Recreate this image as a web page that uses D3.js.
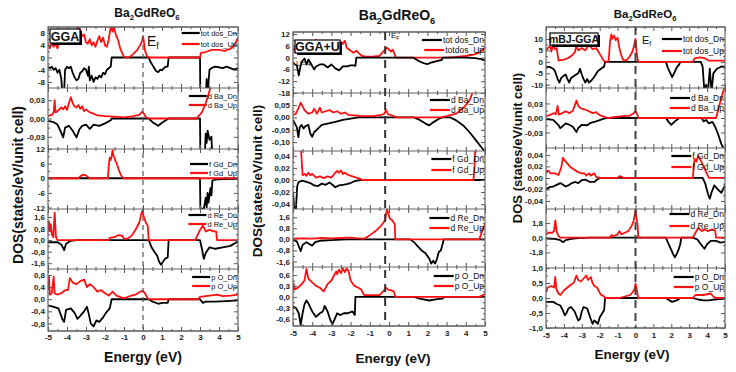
<!DOCTYPE html>
<html><head><meta charset="utf-8">
<script src="https://cdn.jsdelivr.net/npm/d3@7"></script>
<style>body{margin:0;background:#fff}svg{font-family:"Liberation Sans",Arial,sans-serif}</style>
</head><body><svg id="c" width="736" height="372"></svg>
<script>
// ---------- shared axis values ----------
const xTickVals = [-5,-4,-3,-2,-1,0,1,2,3,4,5];
const xTickLabels = ["-5","-4","-3","-2","-1","0","1","2","3","4","5"];
const legendNames = [["tot dos_Dn","tot dos_Up"],["d Ba_Dn","d Ba_Up"],["f Gd_Dn","f Gd_Up"],["d Re_Dn","d Re_Up"],["p O_Dn","p O_Up"]];
const legendNamesU = [["tot dos_Dn","totdos_Up"],["d Ba_Dn","d Ba_Up"],["f Gd_Dn","f Gd_Up"],["d Re_Dn","d Re_Up"],["p O_Dn","p O_Up"]];

// ---------- panel 1 : GGA ----------
const ggaTicks = [[8,4,0,-4,-8],[0.03,0,-0.03],[12,6,0,-6,-12],[1.6,0.8,0,-0.8,-1.6],[0.8,0.4,0,-0.4,-0.8]];
const ggaTickLabels = [["8","4","0","-4","-8"],["0,03","0,00","-0,03"],["12","6","0","-6","-12"],["1,6","0,8","0,0","-0,8","-1,6"],["0,8","0,4","0,0","-0,4","-0,8"]];
const ggaTotUp = [[-5,4.5],[-4.9,3],[-4.8,5],[-4.7,3.5],[-4.6,4.5],[-4.5,3],[-4.4,5.5],[-4.3,7.5],[-4.2,6],[-4.1,5],[-4.0,4.5],[-3.9,6],[-3.8,5],[-3.7,7],[-3.6,6.5],[-3.5,8.5],[-3.4,10],[-3.3,9],[-3.2,7],[-3.1,7.5],[-3.0,5],[-2.9,4.5],[-2.8,6],[-2.7,4],[-2.6,5],[-2.5,3.5],[-2.4,5.5],[-2.3,7],[-2.2,5],[-2.1,6.5],[-2.0,4],[-1.9,3.5],[-1.8,6],[-1.7,10],[-1.6,8.5],[-1.55,10.5],[-1.5,9],[-1.4,7],[-1.3,5.5],[-1.2,3],[-1.1,1.5],[-1.0,0.3],[-0.9,0],[-0.7,0.2],[-0.5,1.2],[-0.3,2.5],[-0.15,4],[-0.05,5.5],[0,7],[0.05,5],[0.1,2.5],[0.2,0.5],[0.3,0],[3.0,0],[3.05,1.5],[3.3,1.8],[3.6,2.5],[4.0,2.5],[4.3,2.2],[4.6,2.8],[4.8,4],[5,6.5]];
const ggaTotDn = [[-5,-3],[-4.9,-3.5],[-4.8,-3],[-4.7,-4],[-4.6,-3.5],[-4.5,-5],[-4.4,-4],[-4.3,-7],[-4.25,-11],[-4.15,-11],[-4.1,-4],[-4.0,-3],[-3.9,-3.5],[-3.8,-3],[-3.7,-5],[-3.6,-6.5],[-3.5,-7.5],[-3.4,-7],[-3.3,-5],[-3.2,-4.5],[-3.1,-3.5],[-3.0,-4],[-2.9,-6],[-2.85,-3],[-2.8,-7.5],[-2.7,-6],[-2.6,-8],[-2.5,-6.5],[-2.4,-7],[-2.3,-6],[-2.2,-6.5],[-2.1,-5],[-2.0,-5.5],[-1.9,-4],[-1.8,-3.5],[-1.7,-3],[-1.65,0],[0.3,0],[0.4,-1.5],[0.5,-2.5],[0.6,-3.5],[0.7,-4.5],[0.8,-4.8],[0.9,-4],[1.0,-4.2],[1.1,-3.5],[1.2,-3],[1.3,-3],[1.35,0],[3.0,0],[3.02,-14],[3.3,-14],[3.35,-7],[3.4,-14],[3.45,-8],[3.5,-4],[3.6,-3.5],[3.8,-3],[4.0,-3.2],[4.2,-3.5],[4.4,-3],[4.6,-3.5],[4.8,-4],[5,-3.5]];
const ggaBaUp = [[-5,0.004],[-4.8,0.006],[-4.7,0.01],[-4.65,0.03],[-4.6,0.01],[-4.5,0.012],[-4.3,0.018],[-4.2,0.015],[-4.1,0.02],[-4.0,0.014],[-3.9,0.025],[-3.8,0.035],[-3.7,0.025],[-3.6,0.02],[-3.5,0.018],[-3.4,0.022],[-3.3,0.016],[-3.2,0.02],[-3.1,0.012],[-3.0,0.015],[-2.8,0.01],[-2.6,0.008],[-2.4,0.005],[-2.0,0.004],[-1.5,0.003],[-1.0,0.002],[-0.5,0.004],[-0.2,0.006],[-0.05,0.011],[0.05,0.008],[0.15,0.002],[0.3,0],[2.8,0],[2.9,0.003],[3.1,0.01],[3.3,0.025],[3.5,0.045],[3.7,0.065]];
const ggaBaDn = [[-5,-0.004],[-4.7,-0.006],[-4.5,-0.01],[-4.35,-0.02],[-4.2,-0.031],[-4.1,-0.015],[-3.9,-0.012],[-3.7,-0.02],[-3.5,-0.031],[-3.35,-0.018],[-3.2,-0.012],[-3.0,-0.01],[-2.8,-0.017],[-2.6,-0.01],[-2.3,-0.012],[-2.0,-0.008],[-1.7,-0.003],[-1.65,0],[0.3,0],[0.5,-0.006],[0.8,-0.012],[1.0,-0.007],[1.35,0],[3.0,0],[3.02,-0.06],[3.25,-0.06],[3.3,-0.025],[3.35,-0.04],[3.4,-0.02],[3.5,-0.035],[3.6,-0.03],[3.65,-0.06],[3.7,-0.08],[5,-0.1]];
const ggaGdUp = [[-5,0],[-3.4,0],[-3.3,0.8],[-3.15,1.5],[-3.0,1.2],[-2.9,0.5],[-2.8,0],[-1.85,0],[-1.8,5.5],[-1.75,8.5],[-1.7,7.5],[-1.65,9],[-1.6,11.5],[-1.55,9],[-1.5,8.5],[-1.45,7],[-1.4,6.5],[-1.3,4],[-1.2,2],[-1.1,0.5],[-1.0,0],[5,0]];
const ggaGdDn = [[-5,0],[3.0,0],[3.02,-12.5],[3.2,-12.5],[3.3,-8],[3.35,-12],[3.4,-6],[3.45,-10],[3.55,-4],[3.6,-7],[3.65,-1],[3.8,-0.5],[4.2,-0.3],[5,-0.2]];
const ggaReUp = [[-5,0.6],[-4.95,1.3],[-4.9,0.6],[-4.85,1.1],[-4.8,0.4],[-4.72,0.2],[-4.65,1.9],[-4.58,0.2],[-4.5,0],[-1.8,0],[-1.75,0.15],[-1.5,0.2],[-1.3,0.35],[-1.1,0.3],[-1.0,0.1],[-0.8,0.1],[-0.6,0.3],[-0.4,0.7],[-0.2,1.2],[-0.05,2.0],[0.05,1.6],[0.15,1.2],[0.25,1.0],[0.3,0],[2.75,0],[3.0,0.7],[3.15,1.0],[3.3,0.6],[3.5,0.7],[3.7,0.6],[3.85,0.6],[3.9,0],[5,0]];
const ggaReDn = [[-5,-0.15],[-4.5,-0.15],[-4.3,-0.3],[-4.15,-0.7],[-4.05,-0.25],[-3.8,-0.05],[-3.5,0],[0.3,0],[0.45,-0.5],[0.6,-0.8],[0.75,-1.1],[0.85,-1.5],[0.95,-1.7],[1.05,-1.5],[1.15,-1.3],[1.3,-1.2],[1.35,0],[3.0,0],[3.1,-0.6],[3.2,-1.3],[3.3,-0.9],[3.5,-0.5],[3.8,-0.6],[4.2,-0.5],[4.6,-0.4],[5,-0.1]];
const ggaOUp = [[-5,0.3],[-4.95,0.75],[-4.9,0.15],[-4.8,0.2],[-4.7,0.75],[-4.65,0.2],[-4.5,0.15],[-4.3,0.2],[-4.1,0.3],[-3.95,0.3],[-3.85,0.7],[-3.7,0.55],[-3.5,0.5],[-3.3,0.6],[-3.1,0.65],[-2.95,0.4],[-2.8,0.5],[-2.6,0.4],[-2.4,0.25],[-2.2,0.3],[-2.0,0.2],[-1.8,0.12],[-1.6,0.25],[-1.4,0.12],[-1.0,0.03],[-0.7,0.1],[-0.4,0.15],[-0.15,0.25],[0,0.28],[0.1,0.2],[0.25,0.02],[0.3,0],[2.9,0],[3.0,0.08],[3.5,0.12],[3.9,0.15],[4.2,0.1],[4.6,0.12],[5,0.15]];
const ggaODn = [[-5,-0.2],[-4.7,-0.25],[-4.45,-0.3],[-4.25,-0.65],[-4.15,-0.75],[-4.05,-0.35],[-3.8,-0.3],[-3.6,-0.45],[-3.45,-0.65],[-3.3,-0.55],[-3.1,-0.4],[-2.95,-0.25],[-2.85,-0.5],[-2.75,-0.8],[-2.6,-0.9],[-2.45,-0.7],[-2.3,-0.75],[-2.1,-0.6],[-1.95,-0.45],[-1.75,-0.3],[-1.65,0],[0.3,0],[0.5,-0.08],[0.8,-0.15],[1.0,-0.12],[1.3,-0.12],[1.35,0],[3.0,0],[3.15,-0.12],[3.3,-0.08],[3.8,-0.08],[4.4,-0.06],[5,-0.04]];

// ---------- panel 2 : GGA+U ----------
const uTicks = [[12,6,0,-6,-12,-18],[0.05,0,-0.05,-0.1],[0.04,0.02,0,-0.02,-0.04],[1.6,0.8,0,-0.8,-1.6],[0.6,0.3,0,-0.3,-0.6]];
const uTickLabels = [["12","6","0","-6","-12","-18"],["0,05","0,00","-0,05","-0,10"],["0,04","0,02","0,00","-0,02","-0,04"],["1,6","0,8","0,0","-0,8","-1,6"],["0,6","0,3","0,0","-0,3","-0,6"]];
const uTotUp = [[-5,5],[-4.9,3.5],[-4.8,6],[-4.6,7],[-4.4,6],[-4.2,8],[-4.0,7],[-3.8,9],[-3.6,6],[-3.4,7],[-3.2,8],[-3.0,6.5],[-2.8,5],[-2.6,7.5],[-2.5,8],[-2.4,7],[-2.3,8.5],[-2.2,5],[-2.0,3.5],[-1.85,2.5],[-1.7,3.5],[-1.55,2],[-1.4,0.8],[-1.2,0.5],[-0.8,0.6],[-0.5,0.8],[-0.35,2.5],[-0.2,4],[-0.1,5],[0,4],[0.1,3],[0.2,4],[0.3,1.5],[0.35,0],[3.0,0],[3.5,0.3],[4.0,0.8],[4.4,1.5],[4.7,2.5],[5,5]];
const uTotDn = [[-5,-2.5],[-4.9,-3.5],[-4.8,-4],[-4.7,-9],[-4.6,-4],[-4.5,-1.5],[-4.4,-0.5],[-4.3,-3.5],[-4.2,-1],[-4.1,-2.5],[-3.9,-6],[-3.8,-4.5],[-3.6,-3.5],[-3.4,-3.5],[-3.2,-5],[-3.0,-3.5],[-2.8,-5.5],[-2.6,-6.5],[-2.4,-4.5],[-2.2,-4.5],[-2.0,-4],[-1.85,-4],[-1.75,-4.2],[-1.7,0],[1.25,0],[1.4,-0.8],[1.6,-2],[1.8,-2.8],[2.0,-3.3],[2.2,-2.5],[2.5,-1.8],[2.75,-1.2],[2.8,0],[4.0,0],[4.5,-0.3],[4.8,-0.8],[5,-1.5]];
const uBaUp = [[-5,0.01],[-4.85,0.015],[-4.7,0.04],[-4.6,0.06],[-4.5,0.045],[-4.4,0.03],[-4.2,0.015],[-4.0,0.02],[-3.9,0.035],[-3.75,0.015],[-3.6,0.04],[-3.5,0.02],[-3.3,0.025],[-3.1,0.03],[-2.9,0.02],[-2.7,0.025],[-2.5,0.015],[-2.3,0.02],[-2.1,0.01],[-1.8,0.008],[-1.4,0.005],[-0.8,0.005],[-0.4,0.01],[-0.25,0.015],[-0.15,0.03],[-0.05,0.012],[0.1,0.01],[0.3,0.003],[0.4,0],[2.7,0],[3.0,0.005],[3.5,0.015],[3.9,0.04],[4.2,0.07],[4.4,0.11]];
const uBaDn = [[-5,-0.01],[-4.9,-0.025],[-4.8,-0.04],[-4.72,-0.08],[-4.65,-0.04],[-4.55,-0.03],[-4.45,-0.045],[-4.35,-0.035],[-4.2,-0.03],[-4.1,-0.065],[-4.0,-0.078],[-3.9,-0.06],[-3.7,-0.045],[-3.5,-0.03],[-3.2,-0.025],[-2.8,-0.018],[-2.4,-0.01],[-2.0,-0.005],[-1.6,0],[1.3,0],[1.6,-0.01],[1.9,-0.025],[2.1,-0.032],[2.3,-0.02],[2.6,-0.005],[2.8,0],[3.2,0],[3.5,-0.012],[3.9,-0.035],[4.2,-0.06],[4.5,-0.09],[4.8,-0.12],[5,-0.14]];
const uGdUp = [[-5,0.035],[-4.97,0.06],[-4.6,0.06],[-4.5,0.008],[-4.4,0.01],[-4.3,0.007],[-4.2,0.012],[-4.1,0.008],[-4.0,0.01],[-3.8,0.004],[-3.6,0.006],[-3.4,0.003],[-3.2,0.006],[-3.0,0.004],[-2.8,0.012],[-2.7,0.015],[-2.6,0.012],[-2.5,0.016],[-2.4,0.01],[-2.3,0.012],[-2.1,0.008],[-1.9,0.006],[-1.7,0.004],[-1.5,0.002],[-1.4,0],[4.4,0],[4.45,0.02],[4.5,0.06]];
const uGdDn = [[-5,-0.02],[-4.93,-0.05],[-4.85,-0.05],[-4.78,-0.01],[-4.7,-0.003],[-4.5,-0.001],[-4.3,-0.003],[-4.1,-0.005],[-3.9,-0.009],[-3.7,-0.01],[-3.5,-0.006],[-3.3,-0.008],[-3.1,-0.004],[-2.9,-0.009],[-2.8,-0.012],[-2.6,-0.009],[-2.4,-0.008],[-2.2,-0.007],[-2.0,-0.005],[-1.8,-0.002],[-1.5,0],[5,0]];
const uReUp = [[-5,0.05],[-4.5,0.08],[-4.0,0.05],[-3.5,0.1],[-3.0,0.08],[-2.5,0.1],[-2.0,0.12],[-1.6,0.08],[-1.3,0.05],[-1.1,0.2],[-0.9,0.4],[-0.7,0.6],[-0.55,0.8],[-0.4,1.0],[-0.3,1.2],[-0.2,1.4],[-0.15,1.9],[-0.1,2.2],[-0.05,1.9],[0.05,1.5],[0.15,1.4],[0.25,1.2],[0.3,1.1],[0.33,0],[4.7,0],[4.8,0.4],[4.9,0.8],[5,1.1]];
const uReDn = [[-5,-0.05],[-4.8,-0.15],[-4.7,-0.5],[-4.6,-0.85],[-4.5,-0.4],[-4.3,-0.2],[-4.2,-0.3],[-4.0,-0.45],[-3.85,-0.2],[-3.6,-0.1],[-3.0,-0.05],[-2.2,0],[1.1,0],[1.3,-0.2],[1.5,-0.5],[1.7,-0.8],[1.9,-1.0],[2.1,-1.4],[2.2,-1.75],[2.3,-1.55],[2.4,-1.75],[2.5,-1.4],[2.6,-0.9],[2.7,-0.8],[2.8,-0.3],[2.85,0],[5,0]];
const uOUp = [[-5,0.18],[-4.97,0.36],[-4.9,0.2],[-4.75,0.25],[-4.55,0.35],[-4.4,0.45],[-4.3,0.77],[-4.2,0.5],[-4.1,0.45],[-4.0,0.4],[-3.8,0.3],[-3.6,0.25],[-3.4,0.15],[-3.2,0.35],[-3.0,0.45],[-2.85,0.6],[-2.75,0.7],[-2.7,0.62],[-2.6,0.75],[-2.5,0.65],[-2.4,0.78],[-2.3,0.68],[-2.2,0.78],[-2.1,0.7],[-2.0,0.45],[-1.8,0.3],[-1.6,0.25],[-1.45,0.2],[-1.3,0.05],[-1.0,0.05],[-0.5,0.05],[-0.3,0.15],[-0.15,0.25],[-0.05,0.2],[0.1,0.18],[0.25,0.15],[0.33,0],[4.7,0],[5,0.08]];
const uODn = [[-5,-0.27],[-4.85,-0.3],[-4.7,-0.45],[-4.6,-0.77],[-4.5,-0.45],[-4.4,-0.2],[-4.3,-0.1],[-4.2,-0.18],[-4.0,-0.4],[-3.8,-0.55],[-3.6,-0.45],[-3.45,-0.4],[-3.35,-0.25],[-3.2,-0.4],[-3.05,-0.64],[-2.95,-0.75],[-2.85,-0.64],[-2.7,-0.45],[-2.55,-0.5],[-2.35,-0.45],[-2.15,-0.45],[-1.9,-0.4],[-1.78,-0.5],[-1.75,0],[1.3,0],[1.6,-0.05],[2.1,-0.1],[2.5,-0.06],[2.8,-0.05],[2.85,0],[5,0]];

// ---------- panel 3 : mBJ-GGA ----------
const mTicks = [[10,5,0,-5,-10],[0.03,0,-0.03],[0.04,0.02,0,-0.02,-0.04],[1.8,0,-1.8],[1,0.5,0,-0.5,-1]];
const mTickLabels = [["10","5","0","-5","-10"],["0,03","0,00","-0,03"],["0,04","0,02","0,00","-0,02","-0,04"],["1,8","0,0","-1,8"],["1,0","0,5","0,0","-0,5","-1,0"]];
const mTotUp = [[-5,5],[-4.9,6],[-4.75,7],[-4.7,4.5],[-4.6,7.5],[-4.5,5.5],[-4.4,6],[-4.3,0.5],[-4.2,0.8],[-4.0,1],[-3.8,1.5],[-3.6,2.5],[-3.4,4],[-3.3,7],[-3.2,5],[-3.0,6],[-2.8,5],[-2.6,7.5],[-2.4,5.5],[-2.2,6],[-2.0,3.5],[-1.85,1.5],[-1.75,0.3],[-1.6,0],[-1.5,0.5],[-1.42,9],[-1.35,12],[-1.3,10],[-1.2,11.5],[-1.1,9.5],[-1.0,10.5],[-0.9,6],[-0.8,3],[-0.7,1],[-0.55,0.5],[-0.4,1.5],[-0.2,4],[-0.1,6.5],[0,10],[0.05,5],[0.12,1],[0.15,0],[3.2,0],[3.3,1.5],[3.6,2],[3.9,1.5],[4.1,0.5],[4.3,0.5],[5,0.5]];
const mTotDn = [[-5,-2.2],[-4.8,-2.2],[-4.6,-3],[-4.5,-4],[-4.35,-7.5],[-4.25,-9],[-4.15,-7],[-4.0,-6],[-3.9,-5.5],[-3.8,-7.5],[-3.7,-9],[-3.6,-7],[-3.4,-6],[-3.2,-5],[-3.1,-3],[-3.0,-5.5],[-2.9,-7.5],[-2.8,-9],[-2.7,-7.5],[-2.6,-9],[-2.45,-8],[-2.3,-6.5],[-2.1,-4],[-1.75,-2],[-1.7,0],[1.7,0],[1.8,-2.5],[1.95,-5],[2.05,-6.7],[2.15,-5],[2.3,-2.5],[2.45,-1],[2.5,0],[3.65,0],[3.75,-2],[3.85,-13],[3.95,-10],[4.05,-13],[4.15,-3],[4.25,-13],[4.35,-5],[4.55,-3],[4.8,-2],[5,-2.2]];
const mBaUp = [[-5,0.004],[-4.8,0.006],[-4.55,0.01],[-4.45,0.008],[-4.35,0.025],[-4.28,0.007],[-4.1,0.01],[-3.9,0.014],[-3.7,0.01],[-3.5,0.015],[-3.4,0.025],[-3.3,0.036],[-3.2,0.025],[-3.05,0.02],[-2.85,0.018],[-2.6,0.014],[-2.4,0.01],[-2.2,0.012],[-2.0,0.006],[-1.7,0.002],[-1.5,0],[-1.0,0.003],[-0.7,0.004],[-0.3,0.005],[-0.1,0.01],[0,0.014],[0.1,0.008],[0.15,0],[4.5,0],[4.75,0.035],[4.9,0.055],[5,0.065]];
const mBaDn = [[-5,-0.002],[-4.6,-0.004],[-4.4,-0.011],[-4.3,-0.015],[-4.2,-0.021],[-4.1,-0.018],[-3.9,-0.011],[-3.7,-0.014],[-3.5,-0.018],[-3.3,-0.029],[-3.2,-0.021],[-3.0,-0.014],[-2.7,-0.015],[-2.5,-0.01],[-2.2,-0.007],[-1.8,-0.002],[-1.6,0],[1.7,0],[1.85,-0.008],[2.0,-0.014],[2.2,-0.007],[2.45,0],[3.7,0],[3.8,-0.007],[3.95,-0.004],[4.1,-0.011],[4.3,-0.008],[4.45,-0.018],[4.6,-0.032],[4.8,-0.054],[4.95,-0.065]];
const mGdUp = [[-5,0.012],[-4.85,0.012],[-4.75,0.008],[-4.5,0.008],[-4.3,0.005],[-4.15,0.018],[-4.05,0.035],[-3.95,0.03],[-3.8,0.025],[-3.6,0.018],[-3.4,0.014],[-3.2,0.01],[-3.0,0.008],[-2.85,0.008],[-2.75,0.004],[-2.6,0.008],[-2.5,0.004],[-2.3,0.008],[-2.2,0.002],[-2.0,0],[-1.0,0],[-0.9,0.003],[-0.75,0.002],[-0.7,0],[3.2,0],[3.3,0.033],[3.4,0.028],[3.5,0.039],[3.65,0.03],[3.8,0.02],[3.95,0.01],[4.1,0],[5,0]];
const mGdDn = [[-5,-0.02],[-4.8,-0.016],[-4.6,-0.015],[-4.4,-0.012],[-4.2,-0.009],[-4.05,-0.012],[-3.9,-0.015],[-3.7,-0.012],[-3.55,-0.009],[-3.35,-0.007],[-3.2,-0.009],[-3.0,-0.004],[-2.8,-0.003],[-2.55,-0.007],[-2.3,-0.007],[-2.15,-0.003],[-2.0,0],[3.75,0],[3.9,-0.01],[4.05,-0.028],[4.15,-0.036],[4.25,-0.025],[4.4,-0.013],[4.6,-0.02],[4.8,-0.026],[5,-0.013]];
const mReUp = [[-5,0.4],[-4.85,0.6],[-4.65,0.6],[-4.55,0.8],[-4.48,2.1],[-4.4,0.7],[-4.3,0.2],[-4.2,0],[-1.45,0],[-1.35,0.3],[-1.2,0.2],[-1.0,0.4],[-0.9,0.8],[-0.8,0.4],[-0.6,0.6],[-0.4,0.8],[-0.2,1.5],[-0.1,2.1],[0,3.3],[0.05,2.5],[0.12,1.5],[0.15,0],[3.2,0],[3.35,0.6],[3.5,1.2],[3.7,0.8],[3.85,1.0],[4.05,0.8],[4.25,1.0],[4.45,0.9],[4.5,0],[5,0]];
const mReDn = [[-5,-0.1],[-4.5,-0.15],[-4.2,-0.3],[-4.05,-0.55],[-3.9,-0.3],[-3.6,-0.15],[-3.2,-0.05],[-2.5,0],[1.7,0],[1.85,-0.8],[2.0,-1.5],[2.1,-2.0],[2.2,-2.4],[2.3,-2.0],[2.4,-1.5],[2.5,-0.8],[2.56,0],[3.2,0],[3.45,-0.2],[3.65,-0.8],[3.85,-1.35],[4.0,-0.8],[4.2,-0.4],[4.5,-0.4],[4.75,-0.6],[5,-0.5]];
const mOUp = [[-5,0.2],[-4.9,0.35],[-4.7,0.4],[-4.55,0.35],[-4.48,0.7],[-4.42,0.3],[-4.3,0.15],[-4.2,0.1],[-4.0,0.25],[-3.8,0.35],[-3.6,0.45],[-3.45,0.5],[-3.3,0.75],[-3.2,0.6],[-3.05,0.55],[-2.9,0.65],[-2.75,0.75],[-2.65,0.6],[-2.5,0.7],[-2.4,0.5],[-2.3,0.4],[-2.15,0.35],[-1.95,0.12],[-1.75,0.05],[-1.7,0],[-0.9,0],[-0.6,0.05],[-0.3,0.1],[-0.15,0.2],[-0.05,0.3],[0,0.48],[0.05,0.35],[0.12,0.1],[0.15,0],[3.2,0],[3.35,0.1],[3.8,0.1],[4.2,0.15],[4.35,0.05],[4.5,0],[5,0]];
const mODn = [[-5,-0.13],[-4.6,-0.13],[-4.4,-0.2],[-4.2,-0.25],[-4.05,-0.42],[-3.95,-0.58],[-3.85,-0.5],[-3.75,-0.35],[-3.6,-0.3],[-3.4,-0.45],[-3.2,-0.75],[-3.1,-0.7],[-3.0,-0.45],[-2.9,-0.3],[-2.7,-0.35],[-2.6,-0.52],[-2.5,-0.7],[-2.4,-0.86],[-2.3,-0.75],[-2.2,-0.8],[-2.1,-0.86],[-2.0,-0.65],[-1.8,-0.45],[-1.75,-0.4],[-1.7,0],[1.7,0],[1.9,-0.08],[2.05,-0.13],[2.3,-0.08],[2.5,0],[3.2,0],[3.5,-0.05],[3.8,-0.08],[4.1,-0.08],[4.4,-0.05],[5,-0.02]];

// ---------- layout ----------
const panels = [
 {id:"a", x0:48, x1:238, ys:[27,88,149,209,269,331], ef:0, efW:1.2, efDash:"5,4", efC:"#555",
  doms:[[-10,10],[-0.05,0.05],[-12.6,12],[-2,2.15],[-1.05,1]], ticks:ggaTicks, labels:ggaTickLabels,
  up:[ggaTotUp,ggaBaUp,ggaGdUp,ggaReUp,ggaOUp], dn:[ggaTotDn,ggaBaDn,ggaGdDn,ggaReDn,ggaODn],
  leg:legendNames, legY:[[33,44],[96,105],[164,173],[215,224],[277,286]], legFs:7.5, legL:18,
  blackTop:[false,false,false,false,false],
  title:{x:147,y:17,fs:12}, xl:{x:143,y:362,fs:14}, yl:{x:23,y:185,fs:14,t:"DOS(states/eV/unit cell)"},
  xtY:334, box:{x:50,y:29,w:30,h:14,t:"GGA",fs:12.5}, efl:{x:147,y:46,fs:14,sub:"f"}},
 {id:"b", x0:293, x1:485, ys:[32,93,151,209,267,326], ef:-0.2, efW:2, efDash:"8,6", efC:"#333",
  doms:[[-18,13],[-0.136,0.099],[-0.048,0.048],[-2,2.2],[-0.8,0.82]], ticks:uTicks, labels:uTickLabels,
  up:[uTotUp,uBaUp,uGdUp,uReUp,uOUp], dn:[uTotDn,uBaDn,uGdDn,uReDn,uODn],
  leg:legendNamesU, legY:[[40,50],[100,110],[159,170],[218,228],[276,286]], legFs:8.5, legL:20,
  blackTop:[true,false,false,false,false],
  title:{x:397,y:20,fs:14}, xl:{x:393,y:363,fs:13.5}, yl:{x:262,y:181,fs:13.5,t:"DOS(states/eV/unit cell)"},
  xtY:330, box:{x:295,y:40,w:45,h:13,t:"GGA+U",fs:12.5}, efl:{x:391,y:38,fs:8,sub:"F"}, note:{x:296,y:66,t:"U=4"}},
 {id:"c", x0:546, x1:725, ys:[27,88,148,209,268,328], ef:0, efW:2, efDash:"8,5", efC:"#444",
  doms:[[-11.4,15.2],[-0.062,0.062],[-0.054,0.052],[-3.7,3.5],[-1,1]], ticks:mTicks, labels:mTickLabels,
  up:[mTotUp,mBaUp,mGdUp,mReUp,mOUp], dn:[mTotDn,mBaDn,mGdDn,mReDn,mODn],
  leg:legendNames, legY:[[39,51],[98,108],[156,167],[214,226],[277,287]], legFs:8.5, legL:20,
  blackTop:[false,false,false,false,false],
  title:{x:645,y:18,fs:11.5}, xl:{x:632,y:359,fs:13.5}, yl:{x:522,y:148,fs:13,t:"DOS (states/eV/unit cell)"},
  xtY:332, box:{x:550,y:33,w:48,h:12,t:"mBJ-GGA",fs:10.5}, efl:{x:642,y:44,fs:11,sub:"f"}}
];

const svg = d3.select("#c");
const defs = svg.append("defs");
const RED = "#ff1010";

panels.forEach(p => {
  const g = svg.append("g");
  const x = d3.scaleLinear().domain([-5,5]).range([p.x0,p.x1]);
  const minorX = d3.range(-4.5,5,1);
  p.doms.forEach((dom,i) => {
    const top = p.ys[i], bot = p.ys[i+1];
    const y = d3.scaleLinear().domain(dom).range([bot,top]);
    const cid = "clip"+p.id+i;
    defs.append("clipPath").attr("id",cid).append("rect")
      .attr("x",p.x0).attr("y",top).attr("width",p.x1-p.x0).attr("height",bot-top);
    const line = d3.line().x(d=>x(d[0])).y(d=>y(d[1]));
    const cg = g.append("g").attr("clip-path",`url(#${cid})`);
    const order = p.blackTop[i] ? [[p.up[i],RED],[p.dn[i],"#000"]] : [[p.dn[i],"#000"],[p.up[i],RED]];
    order.forEach(([data,col]) => {
      cg.append("path").datum(data).attr("d",line).attr("fill","none")
        .attr("stroke",col).attr("stroke-width",1.8).attr("stroke-linejoin","round");
    });
    const styleAx = s => { s.select(".domain").remove(); s.selectAll("line").attr("stroke","#555"); };
    const tk = p.ticks[i], tl = p.labels[i];
    g.append("g").attr("transform",`translate(${p.x0},0)`)
      .call(d3.axisLeft(y).tickValues(tk).tickFormat((d,k)=>tl[k]).tickSize(-4).tickPadding(3))
      .call(styleAx)
      .call(s=>s.selectAll("text").attr("font-size",8).attr("font-weight","bold").attr("fill","#222")
        .attr("font-family","'Liberation Sans',Arial,sans-serif"));
    g.append("g").attr("transform",`translate(${p.x1},0)`)
      .call(d3.axisRight(y).tickValues(tk).tickFormat("").tickSize(-4)).call(styleAx);
    const minorY = tk.slice(1).map((v,k)=>(v+tk[k])/2);
    g.append("g").attr("transform",`translate(${p.x0},0)`)
      .call(d3.axisLeft(y).tickValues(minorY).tickFormat("").tickSize(-2)).call(styleAx);
    g.append("g").attr("transform",`translate(${p.x1},0)`)
      .call(d3.axisRight(y).tickValues(minorY).tickFormat("").tickSize(-2)).call(styleAx);
    g.append("g").attr("transform",`translate(0,${bot})`)
      .call(d3.axisBottom(x).tickValues(xTickVals).tickFormat("").tickSize(-4)).call(styleAx);
    g.append("g").attr("transform",`translate(0,${bot})`)
      .call(d3.axisBottom(x).tickValues(minorX).tickFormat("").tickSize(-2)).call(styleAx);
    g.append("g").attr("transform",`translate(0,${top})`)
      .call(d3.axisTop(x).tickValues(xTickVals).tickFormat("").tickSize(-4)).call(styleAx);
    g.append("g").attr("transform",`translate(0,${top})`)
      .call(d3.axisTop(x).tickValues(minorX).tickFormat("").tickSize(-2)).call(styleAx);
    p.leg[i].forEach((name,k) => {
      const ly = p.legY[i][k];
      const t = g.append("text").attr("x",p.x1-1).attr("y",ly+3).attr("text-anchor","end")
        .attr("font-size",p.legFs).attr("fill","#111").text(name);
      const w = t.node().getComputedTextLength();
      g.append("line").attr("x1",p.x1-1-w-p.legL-1).attr("x2",p.x1-1-w-1).attr("y1",ly).attr("y2",ly)
        .attr("stroke",k===0?"#000":RED).attr("stroke-width",2.2);
    });
  });
  p.ys.forEach(yy => g.append("line").attr("x1",p.x0).attr("x2",p.x1).attr("y1",yy).attr("y2",yy)
     .attr("stroke","#666").attr("stroke-width",1.2));
  g.append("rect").attr("x",p.x0).attr("y",p.ys[0]).attr("width",p.x1-p.x0).attr("height",p.ys[5]-p.ys[0])
    .attr("fill","none").attr("stroke","#666").attr("stroke-width",1.2);
  g.append("line").attr("x1",x(p.ef)).attr("x2",x(p.ef)).attr("y1",p.ys[0]).attr("y2",p.ys[5])
    .attr("stroke",p.efC).attr("stroke-width",p.efW).attr("stroke-dasharray",p.efDash);
  g.append("g").attr("transform",`translate(0,${p.xtY})`)
    .call(d3.axisBottom(x).tickValues(xTickVals).tickFormat((d,k)=>xTickLabels[k]).tickSize(0).tickPadding(0))
    .call(s=>s.select(".domain").remove())
    .call(s=>s.selectAll("text").attr("font-size",8).attr("font-weight","bold").attr("fill","#222")
      .attr("font-family","'Liberation Sans',Arial,sans-serif"));
  const tt = g.append("text").attr("x",p.title.x).attr("y",p.title.y).attr("text-anchor","middle")
    .attr("font-size",p.title.fs).attr("font-weight","bold").attr("fill","#111");
  tt.append("tspan").text("Ba");
  tt.append("tspan").attr("font-size",p.title.fs*0.65).attr("dy",p.title.fs*0.25).text("2");
  tt.append("tspan").attr("dy",-p.title.fs*0.25).text("GdReO");
  tt.append("tspan").attr("font-size",p.title.fs*0.65).attr("dy",p.title.fs*0.25).text("6");
  g.append("text").attr("x",p.xl.x).attr("y",p.xl.y).attr("text-anchor","middle")
    .attr("font-size",p.xl.fs).attr("font-weight","bold").attr("fill","#111").text("Energy (eV)");
  g.append("text").attr("transform",`translate(${p.yl.x},${p.yl.y}) rotate(-90)`).attr("text-anchor","middle")
    .attr("font-size",p.yl.fs).attr("font-weight","bold").attr("fill","#111").text(p.yl.t);
  const b = p.box;
  g.append("rect").attr("x",b.x+2).attr("y",b.y+2).attr("width",b.w).attr("height",b.h).attr("fill","#000");
  g.append("rect").attr("x",b.x).attr("y",b.y).attr("width",b.w).attr("height",b.h).attr("fill","#fff")
    .attr("stroke","#000").attr("stroke-width",1.2);
  g.append("text").attr("x",b.x+b.w/2).attr("y",b.y+b.h/2+b.fs*0.36).attr("text-anchor","middle")
    .attr("font-size",b.fs).attr("font-weight","bold").attr("fill","#111").text(b.t);
  if (p.note) g.append("text").attr("x",p.note.x).attr("y",p.note.y).attr("font-size",8)
    .attr("fill","#222").text(p.note.t);
  const et = g.append("text").attr("x",p.efl.x).attr("y",p.efl.y).attr("font-size",p.efl.fs).attr("fill","#111");
  et.append("tspan").text("E");
  et.append("tspan").attr("font-size",p.efl.fs*0.65).attr("dy",p.efl.fs*0.22).text(p.efl.sub);
});
</script></body></html>
